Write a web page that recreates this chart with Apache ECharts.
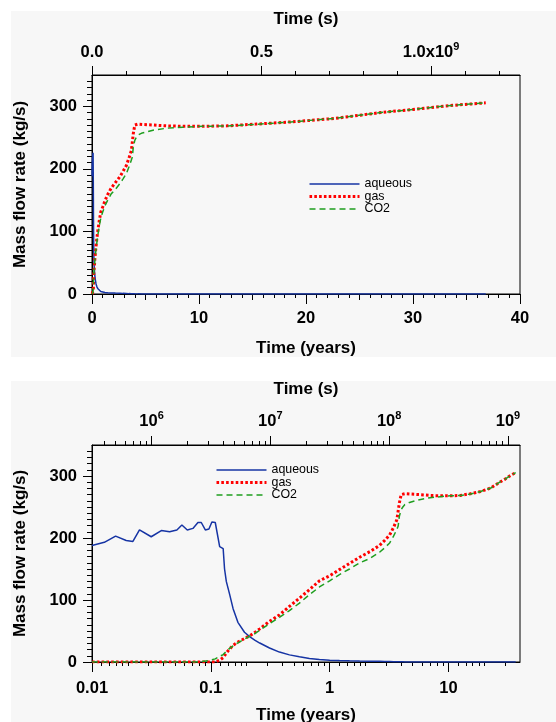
<!DOCTYPE html>
<html><head><meta charset="utf-8">
<script src="https://cdn.jsdelivr.net/npm/echarts@6/dist/echarts.min.js"></script>
<style>
html,body{margin:0;padding:0;background:#fff;}
#wrap{position:relative;width:556px;height:722px;overflow:hidden;}
.panel{position:absolute;left:11px;width:545px;background:#f7f7f7;}
#chart{position:absolute;left:0;top:0;width:556px;height:722px;}
</style></head><body>
<div id="wrap">
<div class="panel" style="top:11px;height:346px"></div>
<div class="panel" style="top:381px;height:341px"></div>
<div id="chart"></div>
</div>
<script>
// ---- data (time in years) ----
const timeYears = [0.01, 0.0127, 0.0158, 0.0194, 0.0221, 0.0251, 0.0315, 0.0383, 0.045, 0.0518,
  0.0571, 0.0634, 0.0707, 0.0779, 0.0831, 0.0899, 0.0964, 0.1021, 0.109, 0.1187,
  0.127, 0.1305, 0.135, 0.144, 0.154, 0.169, 0.192, 0.212, 0.236, 0.258,
  0.312, 0.378, 0.459, 0.557, 0.676, 0.82, 1.0, 1.21, 1.47, 1.79,
  2.18, 2.63, 2.9, 3.2, 3.45, 3.68, 3.77, 3.86, 4.0, 4.13,
  4.3, 4.7, 5.7, 7.0, 8.5, 10.3, 12.6, 15.3, 18.6, 22.7,
  27.0, 30.0, 33.0, 36.8];
const aqueous = [188, 193, 203, 196, 194.5, 213, 202, 212, 210, 213,
  221, 213, 215.5, 225, 225, 213, 214.5, 225.8, 225, 186,
  183, 150, 130, 109, 86, 64, 48, 41, 35, 30.6,
  22.6, 16, 11.5, 8.3, 5.8, 4.0, 3.0, 2.4, 1.9, 1.6,
  1.4, 1.2, 1.0, 0.8, 0.6, 0.5, 0.4, 0.35, 0.3, 0.25,
  0.2, 0.1, 0, 0, 0, 0, 0, 0, 0, 0,
  0, 0, 0, 0];
const gas = [0, 0, 0, 0, 0, 0, 0, 0, 0, 0,
  0, 0, 0, 0, 0, 0, 0, 0, 0, 3,
  7, 10, 14.5, 21, 27, 32, 38, 42, 48, 53.5,
  65.5, 76, 89.7, 103, 116.6, 131, 139, 149, 159, 169,
  178, 188, 196, 205, 217, 229.5, 243, 256.5, 270, 271.5,
  271.5, 271, 270, 268.7, 268, 268, 268.7, 271.5, 275, 280.6,
  290, 295, 300.5, 305.5];
const co2 = [0, 0, 0, 0, 0, 0, 0, 0, 0, 0,
  0, 0, 0, 0, 0.5, 1.5, 2.5, 3.5, 5, 9,
  12, 14, 17, 22, 26, 31, 37, 41.5, 46, 51,
  62, 72, 83, 95, 108.5, 121, 131, 141, 150, 160,
  167, 177, 184, 192, 203, 214, 219, 235, 245.6, 250,
  254, 257.4, 261.8, 265, 266.6, 268, 268.5, 271, 275, 280.6,
  290, 295, 300.5, 305.5];
const seriesNames = ['aqueous', 'gas', 'CO2'];

// ---- ticks / labels ----
const yMajorTicks = [0, 100, 200, 300];
const yearMajorTicks = [0, 10, 20, 30, 40];
const yearMajorLabels = ['0', '10', '20', '30', '40'];
const yearMidTicks = [5, 15, 25, 35];
const secMajorTicks = [0, 5e8, 1e9];
const secMajorLabels = ['0.0', '0.5', '1.0x10^9'];
const logYearTicks = [0.01, 0.1, 1, 10];
const logYearLabels = ['0.01', '0.1', '1', '10'];
const logSecTicks = [1e6, 1e7, 1e8, 1e9];
const logSecLabels = ['10^6', '10^7', '10^8', '10^9'];
const logYearMantissas = [1.2, 1.4, 1.6, 1.8, 2, 3, 4, 5, 6, 7, 8, 9];
const logSecMantissas = [2, 3, 4, 5, 6, 7, 8, 9];

const SEC_PER_YEAR = 31557600;
const Y_MAX = 350, T_MAX = 40, T_MIN_LOG = 0.01;
const FONT = '"Liberation Sans", Arial, Helvetica, sans-serif';

const yMinorTicks = []; for (let v = 10; v < Y_MAX; v += 10) yMinorTicks.push(v);
const yearMinorTicks = []; for (let v = 1; v < T_MAX; v++) yearMinorTicks.push(v);
const secMinorTicks = []; for (let k = 1; k * 1e8 < T_MAX * SEC_PER_YEAR; k++) secMinorTicks.push(k * 1e8);
function logMinor(mants, lo, hi) {
  const out = [];
  for (let e = -3; e <= 10; e++) mants.forEach(m => { const v = m * Math.pow(10, e); if (v > lo && v < hi) out.push(v); });
  return out;
}
const logYearMinorTicks = logMinor(logYearMantissas, T_MIN_LOG, T_MAX);
const logSecMinorTicks = logMinor(logSecMantissas, T_MIN_LOG * SEC_PER_YEAR, T_MAX * SEC_PER_YEAR);

const colors = { aqueous: '#1634a4', gas: '#ff0000', CO2: '#1f9e1f' };
const pairs = vals => timeYears.map((t, i) => [t, vals[i]]);

function toRich(s) { return s.replace(/\^(\d+)/, '{sup|$1}'); }
function tableFmt(ticks, labels, isLog) {
  return function (v) {
    let best = 0, bd = Infinity;
    ticks.forEach((t, i) => {
      const d = isLog ? Math.abs(Math.log10(v) - Math.log10(t)) : Math.abs(v - t);
      if (d < bd) { bd = d; best = i; }
    });
    return toRich(labels[best]);
  };
}
const blk = { color: '#000', width: 1 };
const labelBase = { fontSize: 16.5, fontWeight: 'bold', color: '#000', fontFamily: FONT };
const nameStyle = { fontSize: 17, fontWeight: 'bold', color: '#000', fontFamily: FONT };
const richSup = { sup: { fontSize: 11, fontWeight: 'bold', color: '#000', fontFamily: FONT, verticalAlign: 'top', lineHeight: 12 } };

function tickOnlyAxis(grid, type, pos, min, max, ticks, len) {
  return {
    gridIndex: grid, type: type, position: pos, min: min, max: max,
    axisLine: { show: false, onZero: false },
    axisTick: { show: true, customValues: ticks, length: len, lineStyle: blk },
    axisLabel: { show: false }, splitLine: { show: false }, minorTick: { show: false }
  };
}
function mainAxis(grid, type, pos, min, max, ticks, labels, len, margin, lineHeight, name, nameGap, isLog) {
  return {
    gridIndex: grid, type: type, position: pos, min: min, max: max,
    axisLine: { show: true, onZero: false, lineStyle: blk },
    axisTick: { show: true, customValues: ticks, length: len, lineStyle: blk },
    axisLabel: Object.assign({ customValues: ticks, formatter: tableFmt(ticks, labels, isLog), margin: margin, lineHeight: lineHeight, rich: richSup }, labelBase),
    splitLine: { show: false },
    name: name, nameLocation: 'middle', nameGap: nameGap, nameTextStyle: nameStyle
  };
}

const xAxes = [
  // top panel
  mainAxis(0, 'value', 'bottom', 0, T_MAX, yearMajorTicks, yearMajorLabels, 10, 16, 16, 'Time (years)', 46, false),
  tickOnlyAxis(0, 'value', 'bottom', 0, T_MAX, yearMidTicks, 6),
  tickOnlyAxis(0, 'value', 'bottom', 0, T_MAX, yearMinorTicks, 4),
  mainAxis(0, 'value', 'top', 0, T_MAX * SEC_PER_YEAR, secMajorTicks, secMajorLabels, 9, 12, 22, 'Time (s)', 47, false),
  tickOnlyAxis(0, 'value', 'top', 0, T_MAX * SEC_PER_YEAR, secMinorTicks, 4),
  // bottom panel
  mainAxis(1, 'log', 'bottom', T_MIN_LOG, T_MAX, logYearTicks, logYearLabels, 10, 18, 16, 'Time (years)', 45, true),
  tickOnlyAxis(1, 'log', 'bottom', T_MIN_LOG, T_MAX, logYearMinorTicks, 4),
  mainAxis(1, 'log', 'top', T_MIN_LOG * SEC_PER_YEAR, T_MAX * SEC_PER_YEAR, logSecTicks, logSecLabels, 9, 13, 22, 'Time (s)', 47.5, true),
  tickOnlyAxis(1, 'log', 'top', T_MIN_LOG * SEC_PER_YEAR, T_MAX * SEC_PER_YEAR, logSecMinorTicks, 4)
];
function yMain(grid) {
  const a = mainAxis(grid, 'value', 'left', 0, Y_MAX, yMajorTicks, yMajorTicks.map(String), 9, 15, 16, 'Mass flow rate (kg/s)', 63, false);
  a.nameRotate = 90;
  return a;
}
const yAxes = [yMain(0), tickOnlyAxis(0, 'value', 'left', 0, Y_MAX, yMinorTicks, 5),
               yMain(1), tickOnlyAxis(1, 'value', 'left', 0, Y_MAX, yMinorTicks, 5)];

const lineStyles = {
  aqueous: { color: colors.aqueous, width: 1.5, type: 'solid' },
  gas: { color: colors.gas, width: 3, type: [2.6, 2.2], cap: 'butt' },
  CO2: { color: colors.CO2, width: 1.5, type: [6, 4] }
};
const dataByName = { aqueous: aqueous, gas: gas, CO2: co2 };
const series = [];
[[0, 0], [5, 2]].forEach(([xi, yi]) => {
  seriesNames.forEach(n => {
    series.push({
      type: 'line', name: n, xAxisIndex: xi, yAxisIndex: yi, data: pairs(dataByName[n]),
      symbol: 'none', showSymbol: false, lineStyle: lineStyles[n], itemStyle: { color: colors[n] },
      emphasis: { disabled: true }, clip: true
    });
  });
});
function legend(left, top) {
  return {
    left: left, top: top, orient: 'vertical', itemWidth: 50, itemHeight: 12, itemGap: 0.5,
    data: seriesNames, selectedMode: false, padding: 0,
    itemStyle: { opacity: 0 },
    lineStyle: { width: 'inherit' },
    textStyle: { fontSize: 12.4, color: '#000', fontFamily: FONT }
  };
}
const chart = echarts.init(document.getElementById('chart'), null, { renderer: 'canvas' });
chart.setOption({
  animation: false,
  backgroundColor: 'transparent',
  grid: [
    { left: 92, top: 75, width: 428, height: 219, show: true, borderColor: '#000', borderWidth: 1, backgroundColor: 'transparent', outerBoundsMode: 'none', containLabel: false },
    { left: 92, top: 445, width: 428, height: 217, show: true, borderColor: '#000', borderWidth: 1, backgroundColor: 'transparent', outerBoundsMode: 'none', containLabel: false }
  ],
  legend: [legend(308, 178), legend(215, 464)],
  xAxis: xAxes,
  yAxis: yAxes,
  series: series
});
</script>
</body></html>
